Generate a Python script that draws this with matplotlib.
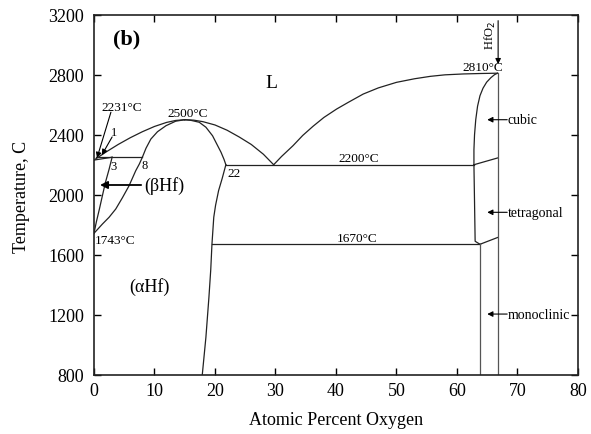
import matplotlib
matplotlib.use("Agg")
import matplotlib.pyplot as plt

# Hf-O phase diagram, boundaries (at.% O, deg C)
liq_left_x = [0, 2, 4, 6, 8, 10, 12, 13.5, 15]
liq_left_y = [2231, 2285, 2335, 2380, 2420, 2455, 2482, 2495, 2500]
liq_mid_x = [15, 16.5, 18, 20, 22, 24, 26, 28, 29.7]
liq_mid_y = [2500, 2497, 2487, 2465, 2430, 2385, 2335, 2270, 2200]
liq_right_x = [29.7, 31, 32.9, 34.5, 36.2, 38, 40.1, 42, 44.5, 47, 50, 53, 55.6, 58, 61.1, 64, 66.7]
liq_right_y = [2200, 2255, 2327, 2395, 2456, 2515, 2571, 2615, 2671, 2712, 2749, 2773, 2789, 2799, 2805, 2808, 2810]

sol_a_left_x = [8, 8.6, 9.4, 10.5, 11.9, 13.5, 15]
sol_a_left_y = [2250, 2310, 2371, 2420, 2460, 2490, 2500]
sol_a_right_x = [15, 16, 17.4, 18.5, 19.6, 20.4, 21.0, 21.5, 21.8]
sol_a_right_y = [2500, 2496, 2483, 2450, 2393, 2330, 2283, 2235, 2200]

b_sol_x = [0, 3]
b_sol_y = [2231, 2250]
b_bound_x = [3, 2.5, 1.9, 1.4, 0.9, 0.4, 0]
b_bound_y = [2250, 2170, 2083, 1995, 1905, 1820, 1743]
a_bound_x = [8, 7.5, 6.9, 5.8, 4.7, 3.6, 2.5, 1.4, 0]
a_bound_y = [2250, 2205, 2160, 2060, 1980, 1905, 1850, 1805, 1743]
a_solvus_x = [21.8, 21.2, 20.6, 20.1, 19.8, 19.5, 19.3, 19.0, 18.5, 17.9]
a_solvus_y = [2200, 2110, 2028, 1930, 1850, 1670, 1500, 1317, 1050, 800]

cubic_x = [66.7, 66.2, 65.6, 64.9, 64.3, 63.8, 63.4, 63.1, 62.9, 62.8, 62.8]
cubic_y = [2810, 2800, 2780, 2750, 2710, 2660, 2590, 2500, 2400, 2300, 2200]
tetra_x = [62.8, 62.9, 63.0, 63.8]
tetra_y = [2200, 1950, 1690, 1670]

peritectic_T = 2250
peri_x = [0.3, 8]
eutectoid_T = 2200
eut_x = [21.8, 62.8]
mono_T = 1670
mono_x = [19.5, 63.8]
ct_x = [62.8, 66.7]
ct_y = [2200, 2245]
tm_x = [63.8, 66.7]
tm_y = [1670, 1715]
mono_left_x = 63.8
hfo2_x = 66.7

xticks = list(range(0, 81, 10))
yticks = list(range(800, 3201, 400))

plt.rcParams['font.family'] = ['Liberation Serif', 'DejaVu Serif']

fig = plt.figure(figsize=(5.91, 4.35), dpi=100)
ax = fig.add_axes([0.159, 0.136, 0.819, 0.828])

lc = '#222222'
lw = 0.9
for xs, ys in [(liq_left_x, liq_left_y), (liq_mid_x, liq_mid_y), (liq_right_x, liq_right_y),
               (sol_a_left_x, sol_a_left_y), (sol_a_right_x, sol_a_right_y),
               (b_sol_x, b_sol_y), (b_bound_x, b_bound_y), (a_bound_x, a_bound_y),
               (a_solvus_x, a_solvus_y), (cubic_x, cubic_y), (tetra_x, tetra_y),
               (ct_x, ct_y), (tm_x, tm_y)]:
    ax.plot(xs, ys, color=lc, lw=lw)

ax.plot(peri_x, [peritectic_T] * 2, color=lc, lw=lw)
ax.plot(eut_x, [eutectoid_T] * 2, color=lc, lw=lw)
ax.plot(mono_x, [mono_T] * 2, color=lc, lw=lw)
ax.plot([mono_left_x] * 2, [800, mono_T], color='#555555', lw=lw)
ax.plot([hfo2_x] * 2, [800, 2810], color='#555555', lw=lw)

# arrows
def arrow(tail, tip, w=0.8, ms=8):
    ax.annotate('', xy=tip, xytext=tail,
                arrowprops=dict(arrowstyle='-|>', color='k', lw=w,
                                mutation_scale=ms, shrinkA=0, shrinkB=0))

arrow((2.8, 2550), (0.5, 2245))
arrow((3.0, 2385), (1.3, 2265))
arrow((7.8, 2065), (1.0, 2065), w=1.3, ms=11)
arrow((66.8, 3160), (66.8, 2870))
arrow((68.3, 2500), (65.0, 2500))
arrow((68.3, 1883), (65.0, 1883))
arrow((68.3, 1205), (65.0, 1205))

ax.text(3.1, 3038, '(b)', fontsize=16, fontweight='bold', ha='left', va='center')
ax.text(29.4, 2745, 'L', fontsize=14, ha='center', va='center')
ax.text(1.3, 2585, '2231°C', fontsize=9.5, ha='left', va='center')
ax.text(3.3, 2418, '1', fontsize=9, ha='center', va='center')
ax.text(15.5, 2508, '2500°C', fontsize=9.5, ha='center', va='bottom')
ax.text(3.3, 2193, '3', fontsize=9, ha='center', va='center')
ax.text(8.3, 2198, '8', fontsize=9, ha='center', va='center')
ax.text(22.1, 2145, '22', fontsize=9.5, ha='left', va='center')
ax.text(8.3, 2065, '(βHf)', fontsize=13, ha='left', va='center')
ax.text(5.8, 1393, '(αHf)', fontsize=13, ha='left', va='center')
ax.text(0.1, 1701, '1743°C', fontsize=9.5, ha='left', va='center')
ax.text(43.8, 2205, '2200°C', fontsize=9.5, ha='center', va='bottom')
ax.text(43.5, 1675, '1670°C', fontsize=9.5, ha='center', va='bottom')
ax.text(64.2, 2851, '2810°C', fontsize=9.5, ha='center', va='center')
ax.text(65.5, 3065, 'HfO$_2$', fontsize=9, rotation=90, ha='center', va='center')
ax.text(68.4, 2500, 'cubic', fontsize=10, ha='left', va='center')
ax.text(68.4, 1883, 'tetragonal', fontsize=10, ha='left', va='center')
ax.text(68.4, 1205, 'monoclinic', fontsize=10, ha='left', va='center')

ax.set_xlim(0, 80)
ax.set_ylim(800, 3200)
ax.set_xticks(xticks)
ax.set_yticks(yticks)
ax.tick_params(direction='in', length=5, width=1, top=True, right=True, labelsize=13)
ax.tick_params(axis='x', pad=5)
ax.tick_params(axis='y', pad=7)
for s in ax.spines.values():
    s.set_linewidth(1.2)
    s.set_color('#222222')

fig.text(22 / 591, 1 - 197 / 435, 'Temperature, C', fontsize=13, rotation=90,
         ha='center', va='center')
fig.text(336 / 591, 1 - 421 / 435, 'Atomic Percent Oxygen', fontsize=13,
         ha='center', va='center')

fig.savefig('out.png', dpi=100)
